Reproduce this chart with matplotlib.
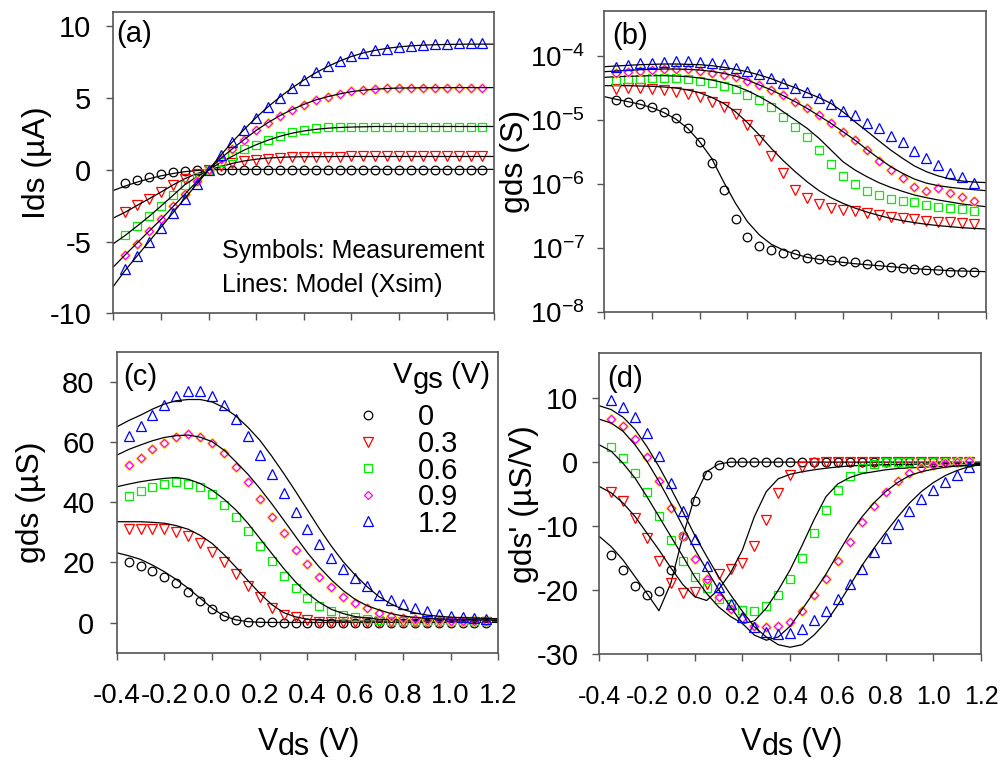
import matplotlib
matplotlib.use('Agg')
import matplotlib.pyplot as plt
from matplotlib.lines import Line2D

plt.rcParams['font.family'] = ['Liberation Sans', 'DejaVu Sans']
plt.rcParams['axes.unicode_minus'] = False
plt.rcParams['mathtext.default'] = 'regular'

# x grids (V)
vds_meas = [-0.35, -0.30, -0.25, -0.20, -0.15, -0.10, -0.05, 0.00, 0.05, 0.10,
            0.15, 0.20, 0.25, 0.30, 0.35, 0.40, 0.45, 0.50, 0.55, 0.60,
            0.65, 0.70, 0.75, 0.80, 0.85, 0.90, 0.95, 1.00, 1.05, 1.10, 1.15]
vds_model = [-0.40] + vds_meas + [1.20]
vgs_labels = ['0', '0.3', '0.6', '0.9', '1.2']

# (a) Ids (uA) - measurement
ids_meas = [
    [-0.95, -0.74, -0.51, -0.28, -0.16, -0.07, -0.02, 0.0] + [0.0] * 23,
    [-2.95, -2.48, -2.02, -1.55, -1.04, -0.63, -0.3, 0.0, 0.3, 0.45, 0.58, 0.68,
     0.77, 0.83, 0.87, 0.89, 0.9, 0.91, 0.92] + [0.93] * 12,
    [-4.57, -3.92, -3.25, -2.53, -1.79, -1.04, -0.5, 0.0, 0.55, 0.93, 1.42, 1.76,
     2.09, 2.39, 2.62, 2.81, 2.9, 2.97, 2.99] + [3.0] * 12,
    [-5.92, -5.15, -4.27, -3.46, -2.55, -1.67, -0.81, 0.0, 0.77, 1.46, 2.09, 2.78,
     3.29, 3.78, 4.2, 4.55, 4.87, 5.1, 5.29, 5.48, 5.57, 5.64, 5.68, 5.71, 5.72,
     5.72, 5.73, 5.73, 5.73, 5.73, 5.73],
    [-6.91, -6.03, -5.03, -4.06, -3.02, -2.0, -0.97, 0.0, 1.0, 1.93, 2.78, 3.62,
     4.36, 5.01, 5.71, 6.29, 6.8, 7.22, 7.61, 7.96, 8.17, 8.33, 8.45, 8.54, 8.63,
     8.7, 8.75, 8.79, 8.81, 8.84, 8.84],
]
# (a) Ids (uA) - model
ids_model = [
    [-1.44, -1.13, -0.86, -0.62, -0.42, -0.26, -0.13, -0.05, 0.0, 0.02] + [0.03] * 23,
    [-3.36, -2.95, -2.48, -2.02, -1.55, -1.06, -0.62, -0.27, 0.0, 0.22, 0.45, 0.62,
     0.74, 0.82, 0.87, 0.9, 0.91, 0.92, 0.92] + [0.93] * 14,
    [-5.15, -4.57, -3.92, -3.25, -2.53, -1.79, -1.04, -0.5, 0.0, 0.5, 0.95, 1.38,
     1.75, 2.07, 2.34, 2.55, 2.71, 2.82, 2.9, 2.95, 2.98, 3.0] + [3.02] * 11,
    [-6.77, -5.92, -5.1, -4.27, -3.46, -2.58, -1.7, -0.83, 0.0, 0.78, 1.47, 2.12,
     2.75, 3.3, 3.78, 4.2, 4.56, 4.87, 5.1, 5.29, 5.45, 5.55, 5.62, 5.67, 5.7,
     5.71, 5.72, 5.72] + [5.73] * 5,
    [-8.12, -7.0, -6.0, -5.0, -4.0, -3.0, -2.0, -1.0, 0.0, 1.0, 1.95, 2.83, 3.65,
     4.4, 5.08, 5.7, 6.26, 6.76, 7.2, 7.58, 7.9, 8.15, 8.33, 8.47, 8.57, 8.64,
     8.69, 8.72, 8.74, 8.75, 8.76, 8.76, 8.76],
]

# (b) gds (S) - measurement
gds_log_meas = [
    [2.03e-5, 1.87e-5, 1.74e-5, 1.56e-5, 1.30e-5, 1.05e-5, 7.3e-6, 4.4e-6, 2.08e-6,
     8.0e-7, 2.84e-7, 1.45e-7, 1.07e-7, 9.2e-8, 8.3e-8, 7.9e-8, 7.0e-8, 6.6e-8,
     6.4e-8, 6.1e-8, 6.0e-8, 5.6e-8, 5.4e-8, 5.0e-8, 4.9e-8, 4.7e-8, 4.5e-8,
     4.4e-8, 4.1e-8, 4.2e-8, 4.1e-8],
    [2.98e-5, 3.1e-5, 3.1e-5, 2.98e-5, 2.9e-5, 2.74e-5, 2.49e-5, 2.23e-5, 1.91e-5,
     1.6e-5, 1.21e-5, 8.3e-6, 4.9e-6, 2.7e-6, 1.45e-6, 8.1e-7, 5.9e-7, 4.8e-7,
     4.1e-7, 3.9e-7, 3.7e-7, 3.5e-7, 3.2e-7, 3.05e-7, 2.88e-7, 2.77e-7, 2.64e-7,
     2.55e-7, 2.5e-7, 2.45e-7, 2.35e-7],
    [4.07e-5, 4.26e-5, 4.36e-5, 4.4e-5, 4.5e-5, 4.4e-5, 4.26e-5, 4.07e-5, 3.7e-5,
     3.36e-5, 2.98e-5, 2.43e-5, 2.03e-5, 1.56e-5, 1.11e-5, 7.8e-6, 5.3e-6, 3.3e-6,
     2.03e-6, 1.32e-6, 9.9e-7, 7.8e-7, 6.65e-7, 5.75e-7, 5.35e-7, 5.1e-7, 4.65e-7,
     4.37e-7, 4.2e-7, 4.0e-7, 3.8e-7],
    [5.42e-5, 5.6e-5, 5.83e-5, 5.97e-5, 6.1e-5, 6.1e-5, 6.1e-5, 5.83e-5, 5.42e-5,
     4.99e-5, 4.58e-5, 4.02e-5, 3.48e-5, 2.91e-5, 2.43e-5, 1.91e-5, 1.5e-5, 1.18e-5,
     8.8e-6, 6.5e-6, 4.8e-6, 3.36e-6, 2.29e-6, 1.64e-6, 1.21e-6, 8.8e-7, 7.8e-7,
     8.45e-7, 7.2e-7, 6.1e-7, 5.4e-7],
    [6.7e-5, 7.1e-5, 7.6e-5, 7.8e-5, 8.05e-5, 8.2e-5, 8.2e-5, 8.05e-5, 7.8e-5,
     7.3e-5, 6.5e-5, 5.76e-5, 5.1e-5, 4.43e-5, 3.8e-5, 3.16e-5, 2.67e-5, 2.2e-5,
     1.76e-5, 1.36e-5, 1.18e-5, 8.98e-6, 7.3e-6, 5.56e-6, 4.5e-6, 3.28e-6, 2.55e-6,
     1.96e-6, 1.49e-6, 1.26e-6, 1.04e-6],
]
# (b) gds (S) - model
gds_log_model = [
    [2.29e-5, 2.08e-5, 1.91e-5, 1.74e-5, 1.54e-5, 1.29e-5, 1.02e-5, 7.3e-6, 4.5e-6,
     2.49e-6, 1.07e-6, 4.93e-7, 2.55e-7, 1.58e-7, 1.13e-7, 9.2e-8, 7.96e-8, 7.06e-8,
     6.57e-8, 6.19e-8, 5.9e-8, 5.62e-8, 5.42e-8, 5.23e-8, 5.05e-8, 4.87e-8, 4.7e-8,
     4.58e-8, 4.48e-8, 4.37e-8, 4.32e-8, 4.27e-8, 4.22e-8],
    [3.4e-5, 3.4e-5, 3.4e-5, 3.36e-5, 3.32e-5, 3.24e-5, 3.12e-5, 2.91e-5, 2.64e-5,
     2.23e-5, 1.8e-5, 1.33e-5, 8.98e-6, 5.75e-6, 3.56e-6, 2.29e-6, 1.54e-6, 1.07e-6,
     7.78e-7, 6.04e-7, 4.93e-7, 4.17e-7, 3.61e-7, 3.2e-7, 2.87e-7, 2.64e-7, 2.46e-7,
     2.32e-7, 2.21e-7, 2.13e-7, 2.05e-7, 2.0e-7, 1.96e-7],
    [4.58e-5, 4.7e-5, 4.75e-5, 4.81e-5, 4.87e-5, 4.87e-5, 4.81e-5, 4.7e-5, 4.48e-5,
     4.17e-5, 3.79e-5, 3.36e-5, 2.84e-5, 2.29e-5, 1.8e-5, 1.33e-5, 9.9e-6, 7.33e-6,
     5.11e-6, 3.36e-6, 2.21e-6, 1.64e-6, 1.29e-6, 1.04e-6, 8.77e-7, 7.59e-7, 6.65e-7,
     6.04e-7, 5.56e-7, 5.17e-7, 4.81e-7, 4.58e-7, 4.37e-7],
    [5.62e-5, 5.75e-5, 5.9e-5, 6.04e-5, 6.11e-5, 6.19e-5, 6.19e-5, 6.11e-5, 5.97e-5,
     5.69e-5, 5.3e-5, 4.81e-5, 4.17e-5, 3.48e-5, 2.91e-5, 2.37e-5, 1.91e-5, 1.5e-5,
     1.15e-5, 8.77e-6, 6.49e-6, 4.81e-6, 3.44e-6, 2.49e-6, 1.85e-6, 1.45e-6, 1.18e-6,
     1.02e-6, 9.3e-7, 8.77e-7, 8.36e-7, 8.05e-7, 7.78e-7],
    [6.73e-5, 6.9e-5, 7.07e-5, 7.23e-5, 7.32e-5, 7.41e-5, 7.41e-5, 7.32e-5, 7.23e-5,
     6.98e-5, 6.58e-5, 6.11e-5, 5.62e-5, 4.99e-5, 4.37e-5, 3.7e-5, 3.16e-5, 2.64e-5,
     2.21e-5, 1.8e-5, 1.33e-5, 9.3e-6, 6.65e-6, 4.7e-6, 3.36e-6, 2.49e-6, 1.89e-6,
     1.54e-6, 1.32e-6, 1.18e-6, 1.1e-6, 1.06e-6, 1.04e-6],
]

# (c) gds (uS) - measurement
gds_meas = [
    [20.2, 18.9, 17.3, 15.0, 13.05, 10.3, 7.3, 4.4, 2.2, 0.9, 0.2, 0.1, 0.05] + [0.0] * 18,
    [31.0, 31.2, 31.2, 31.0, 30.2, 28.8, 26.5, 23.6, 20.2, 16.2, 12.2, 8.4, 4.8,
     2.5, 1.8, 0.9, 0.3] + [0.2] * 14,
    [42.1, 43.7, 45.1, 46.2, 46.8, 46.2, 44.9, 42.6, 39.0, 35.2, 30.5, 25.4, 20.6,
     15.5, 11.6, 8.1, 5.5, 3.7, 2.5, 1.8, 1.2, 0.9] + [0.5] * 9,
    [52.3, 54.8, 57.5, 59.7, 61.5, 62.5, 61.7, 59.5, 56.2, 51.8, 46.8, 41.0, 35.2,
     29.6, 24.1, 19.5, 15.3, 11.7, 8.6, 6.6, 4.8, 3.3, 2.2, 1.4, 1.1, 0.9, 0.7,
     0.55, 0.5, 0.5, 0.5],
    [61.9, 65.3, 68.9, 72.2, 75.2, 76.9, 76.9, 75.2, 72.2, 67.6, 61.9, 55.6, 49.3,
     42.9, 36.6, 31.1, 26.0, 21.6, 17.7, 14.7, 12.2, 9.2, 7.5, 6.2, 4.8, 3.7, 2.9,
     2.2, 1.8, 1.4, 1.2],
]
# (c) gds (uS) - model
gds_model = [
    [23.2, 22.2, 21.0, 19.1, 16.9, 14.3, 11.4, 8.1, 4.8, 2.2, 0.9, 0.3, 0.1] + [0.05] * 20,
    [33.5, 33.5, 33.5, 33.3, 33.0, 32.2, 31.0, 29.0, 26.3, 22.6, 18.4, 14.0, 9.7,
     6.0, 3.3, 1.9, 1.1, 0.8, 0.6] + [0.5] * 14,
    [45.1, 46.0, 46.8, 47.4, 47.9, 48.2, 47.6, 46.2, 44.0, 41.0, 37.4, 33.0, 28.0,
     23.0, 18.0, 13.5, 9.7, 6.7, 4.4, 3.0, 2.0, 1.5, 1.1, 1.0, 0.9, 0.8, 0.8,
     0.75, 0.75, 0.7, 0.7, 0.7, 0.7],
    [55.6, 57.5, 59.0, 60.4, 61.5, 62.1, 62.3, 61.6, 60.1, 57.3, 53.4, 49.3, 44.6,
     39.5, 34.1, 28.6, 23.2, 18.4, 14.2, 10.6, 7.7, 5.6, 4.2, 3.0, 2.2, 1.7, 1.4,
     1.2, 1.1, 1.0, 0.95, 0.9, 0.9],
    [65.0, 67.1, 68.9, 70.9, 72.6, 73.7, 74.1, 74.1, 73.3, 71.4, 68.6, 64.9, 60.6,
     55.3, 49.6, 43.6, 37.4, 31.2, 25.4, 20.2, 15.8, 11.9, 8.6, 6.2, 4.4, 3.2, 2.5,
     2.1, 1.8, 1.6, 1.5, 1.4, 1.3],
]

# (d) gds' (uS/V) - measurement
dgds_meas = [
    [-14.5, -16.9, -19.3, -20.8, -20.1, -16.8, -11.5, -6.0, -2.0, -0.4, 0.0] + [0.0] * 20,
    [-4.6, -6.1, -8.7, -11.9, -15.5, -18.8, -20.5, -20.2, -19.0, -17.5, -16.7,
     -15.7, -13.1, -9.0, -4.8, -2.0, -0.7, -0.2] + [0.0] * 13,
    [2.4, 0.6, -1.7, -4.7, -8.4, -12.1, -15.4, -17.9, -19.7, -21.3, -22.1, -23.1,
     -23.2, -22.5, -20.8, -18.3, -15.0, -11.1, -7.4, -4.4, -2.2, -0.9, -0.3] + [0.0] * 8,
    [6.7, 5.6, 3.6, 0.8, -2.9, -7.2, -11.5, -15.2, -18.3, -21.0, -23.0, -24.4,
     -25.6, -25.8, -25.6, -24.9, -23.2, -20.8, -18.3, -15.4, -12.4, -9.4, -6.8,
     -4.7, -3.0, -1.7, -0.9, -0.4, -0.15, 0.0, 0.1],
    [9.7, 8.6, 7.0, 4.6, 1.0, -3.2, -7.6, -12.0, -16.2, -19.5, -22.1, -24.2, -25.7,
     -26.5, -26.8, -26.7, -26.0, -24.7, -23.2, -21.3, -19.0, -16.7, -14.1, -11.9,
     -9.6, -7.6, -5.8, -4.3, -3.1, -2.0, -0.8],
]
# (d) gds' (uS/V) - model
dgds_model = [
    [-11.6, -13.2, -15.3, -17.9, -20.5, -23.2, -18.9, -11.6, -5.4, -1.5, -0.3, 0.0] + [0.0] * 21,
    [-3.8, -4.8, -6.4, -8.5, -11.1, -13.7, -16.5, -19.1, -21.0, -21.6, -19.9, -17.3,
     -13.7, -8.5, -4.6, -2.6, -1.9, -1.5, -1.2, -0.95, -0.75, -0.6, -0.5, -0.45,
     -0.4, -0.35, -0.35, -0.3, -0.3, -0.25, -0.25, -0.2, -0.2],
    [2.7, 1.7, -0.2, -2.5, -5.4, -8.5, -11.6, -14.7, -17.9, -20.5, -22.6, -24.1,
     -25.2, -24.8, -22.8, -20.0, -16.8, -13.0, -9.0, -5.4, -3.4, -2.4, -1.8, -1.5,
     -1.2, -1.0, -0.9, -0.8, -0.7, -0.65, -0.6, -0.55, -0.5],
    [6.7, 6.1, 4.8, 2.7, 0.1, -3.0, -6.4, -10.0, -13.6, -16.8, -19.9, -22.6, -25.2,
     -27.0, -27.8, -27.3, -25.6, -23.0, -20.3, -17.5, -14.3, -11.2, -8.6, -6.4,
     -4.6, -3.2, -2.1, -1.5, -1.1, -0.8, -0.6, -0.45, -0.35],
    [8.8, 8.2, 7.0, 5.1, 2.4, -0.7, -4.1, -7.7, -11.4, -14.7, -17.9, -20.7, -23.3,
     -25.7, -27.3, -28.5, -28.9, -28.5, -27.0, -25.0, -22.3, -19.3, -16.2, -13.5,
     -11.0, -8.6, -6.4, -4.6, -3.2, -2.1, -1.3, -0.7, -0.35],
]

markers = ['o', 'v', 's', 'D', '^']
colors = ['black', '#ff0000', '#00ee00', '#ff00ff', '#0000ff']
sizes = [6.2, 7.0, 5.9, 4.4, 7.0]
SPINE = '#555555'


def drawPanel(ax, meas, model):
    for i in range(5):
        if markers[i] == 'D':
            ax.plot(vds_meas, meas[i], ls='none', marker='D', ms=sizes[i] + 1.2,
                    mfc='none', mec='#ffe000', mew=1.0)
        ax.plot(vds_meas, meas[i], ls='none', marker=markers[i], ms=sizes[i],
                mfc='none', mec=colors[i], mew=0.9)
        ax.plot(vds_model, model[i], color='black', lw=0.9)
    ax.set_xlim(-0.4, 1.2)
    ax.set_xticks([-0.4, -0.2, 0.0, 0.2, 0.4, 0.6, 0.8, 1.0, 1.2])
    for s in ax.spines.values():
        s.set_color(SPINE)
        s.set_linewidth(1.2)
    ax.tick_params(direction='out', length=5, width=1, color=SPINE)


def subLabel(ax, x, y, main, sub, rest, size, drop=3.5):
    # text with a lowered (same size) subscript part, e.g. V ds (V)
    t1 = ax.text(x, y, main, transform=ax.transAxes, fontsize=size,
                 ha='left', va='baseline')
    t2 = ax.annotate(sub, xy=(1, 0), xycoords=t1, xytext=(0, -drop),
                     textcoords='offset points', fontsize=size, ha='left', va='bottom')
    ax.annotate(rest, xy=(1, 0), xycoords=t2, xytext=(0, drop),
                textcoords='offset points', fontsize=size, ha='left', va='bottom')


fig = plt.figure(figsize=(10.04, 7.6), dpi=100)
ax_a = fig.add_axes([0.1129, 0.5878, 0.3795, 0.3964])
ax_b = fig.add_axes([0.6019, 0.5899, 0.3802, 0.3957])
ax_c = fig.add_axes([0.1162, 0.1412, 0.3801, 0.3961])
ax_d = fig.add_axes([0.5969, 0.1391, 0.3802, 0.3961])

# (a)
drawPanel(ax_a, ids_meas, ids_model)
ax_a.set_ylim(-10, 11)
ax_a.set_yticks([-10, -5, 0, 5, 10])
ax_a.tick_params(axis='y', labelsize=21, pad=11)
ax_a.tick_params(axis='x', labelbottom=False)
ax_a.set_ylabel('Ids (\u00b5A)', fontsize=23, va='center')
ax_a.yaxis.set_label_coords(-0.200, 0.5)
ax_a.text(0.285, 0.1835, 'Symbols: Measurement', transform=ax_a.transAxes, fontsize=18)
ax_a.text(0.285, 0.0707, 'Lines: Model (Xsim)', transform=ax_a.transAxes, fontsize=18)
ax_a.text(0.007, 0.973, '(a)', transform=ax_a.transAxes, fontsize=21, va='top')

# (b)
drawPanel(ax_b, gds_log_meas, gds_log_model)
ax_b.set_yscale('log')
ax_b.set_ylim(1e-8, 5e-4)
ax_b.set_yticks([1e-8, 1e-7, 1e-6, 1e-5, 1e-4])
ax_b.set_yticklabels(['$10^{-8}$', '$10^{-7}$', '$10^{-6}$', '$10^{-5}$', '$10^{-4}$'])
ax_b.minorticks_off()
ax_b.tick_params(axis='y', labelsize=20, pad=9)
ax_b.tick_params(axis='x', labelbottom=False)
ax_b.set_ylabel('gds (S)', fontsize=23, va='center')
ax_b.yaxis.set_label_coords(-0.233, 0.5)
ax_b.text(0.02, 0.963, '(b)', transform=ax_b.transAxes, fontsize=21, va='top')

# (c)
drawPanel(ax_c, gds_meas, gds_model)
ax_c.set_ylim(-10, 90)
ax_c.set_yticks([0, 20, 40, 60, 80])
ax_c.tick_params(axis='y', labelsize=21, pad=11)
ax_c.tick_params(axis='x', labelsize=20, pad=17)
ax_c.set_xticklabels(['-0.4', '-0.2', '0.0', '0.2', '0.4', '0.6', '0.8', '1.0', '1.2'])
ax_c.set_ylabel('gds (\u00b5S)', fontsize=23, va='center')
ax_c.yaxis.set_label_coords(-0.2246, 0.5)
ax_c.text(0.0165, 0.962, '(c)', transform=ax_c.transAxes, fontsize=21, va='top')
subLabel(ax_c, 0.370, -0.323, 'V', 'ds', ' (V)', 22)
subLabel(ax_c, 0.724, 0.896, 'V', 'gs', ' (V)', 21)
handles = [Line2D([], [], ls='none', marker=markers[i], ms=sizes[i], mfc='none',
                  mec=colors[i], mew=0.9) for i in range(5)]
ax_c.legend(handles, vgs_labels, loc='upper left', bbox_to_anchor=(0.620, 0.828),
            frameon=False, fontsize=21, handlelength=1.0, handletextpad=1.2,
            labelspacing=-0.05, borderpad=0, borderaxespad=0, numpoints=1)

# (d)
drawPanel(ax_d, dgds_meas, dgds_model)
ax_d.set_ylim(-30, 17)
ax_d.set_yticks([-30, -20, -10, 0, 10])
ax_d.tick_params(axis='y', labelsize=21, pad=10)
ax_d.tick_params(axis='x', labelsize=18, pad=17)
ax_d.set_xticklabels(['-0.4', '-0.2', '0.0', '0.2', '0.4', '0.6', '0.8', '1.0', '1.2'])
ax_d.set_ylabel("gds' (\u00b5S/V)", fontsize=23, va='center')
ax_d.yaxis.set_label_coords(-0.197, 0.5)
ax_d.text(0.02, 0.961, '(d)', transform=ax_d.transAxes, fontsize=21, va='top')
subLabel(ax_d, 0.371, -0.318, 'V', 'ds', ' (V)', 22)

fig.savefig('out.png', dpi=100)
plt.close(fig)
